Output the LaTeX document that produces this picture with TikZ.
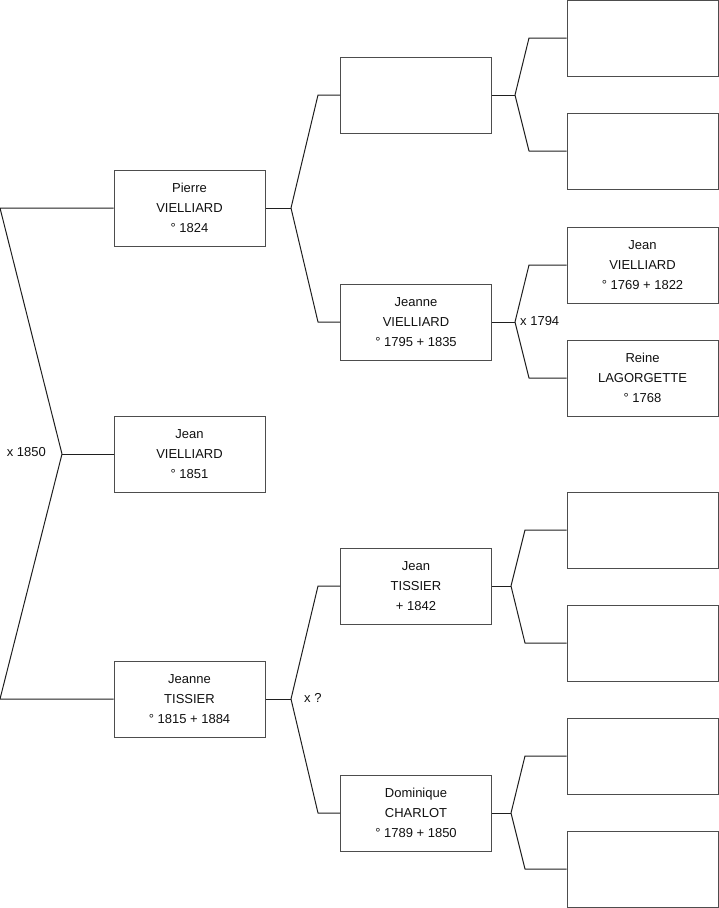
\documentclass[tikz,border=0pt]{standalone}
\usepackage{fontspec}
\setmainfont{Liberation Sans}
\usepackage{xcolor}
\definecolor{treeline}{HTML}{1F1F1F}
\definecolor{boxline}{HTML}{4D4D4D}
\definecolor{treetext}{HTML}{111111}
\tikzset{
  person/.style={rectangle,draw=boxline,fill=white,line width=1pt,
    minimum width=151pt,minimum height=76pt,inner sep=0pt,align=center,
    text=treetext,font=\fontsize{13}{20}\selectfont},
  link/.style={draw=treeline,line width=1pt,line join=bevel},
  union/.style={text=treetext,font=\fontsize{13}{15}\selectfont,inner sep=0pt}
}

\begin{document}
\begin{tikzpicture}[x=1pt,y=-1pt]
  \useasboundingbox (0,0) rectangle (719,908);
  % first generation
  \node[person] (p0) at (189.5,208) {Pierre\\VIELLIARD\\° 1824};
  \node[person] (c0) at (189.5,454) {Jean\\VIELLIARD\\° 1851};
  \node[person] (m0) at (189.5,699) {Jeanne\\TISSIER\\° 1815 + 1884};
  % second generation
  \node[person] (pp) at (416,95) {};
  \node[person] (pm) at (416,322) {Jeanne\\VIELLIARD\\° 1795 + 1835};
  \node[person] (mp) at (416,586) {Jean\\TISSIER\\+ 1842};
  \node[person] (mm) at (416,813) {Dominique\\CHARLOT\\° 1789 + 1850};
  % third generation
  \node[person] (ppp) at (642.5,38) {};
  \node[person] (ppm) at (642.5,151) {};
  \node[person] (pmp) at (642.5,265) {Jean\\VIELLIARD\\° 1769 + 1822};
  \node[person] (pmm) at (642.5,378) {Reine\\LAGORGETTE\\° 1768};
  \node[person] (mpp) at (642.5,530) {};
  \node[person] (mpm) at (642.5,643) {};
  \node[person] (mmp) at (642.5,756) {};
  \node[person] (mmm) at (642.5,869) {};

  % couple of the child
  \coordinate (r0) at (0,208);
  \coordinate (r1) at (0,699);
  \coordinate (j0) at (62,454);
  \draw[link] (p0.west) -- (r0) -- (j0) -- (r1) -- (m0.west);
  \draw[link] (j0) -- (c0.west);
  \node[union,anchor=east] (u0) at (46,452) {x 1850};

  % parents of Pierre
  \coordinate (jp) at (291,208);
  \coordinate (jpa) at (318,95);
  \coordinate (jpb) at (318,322);
  \draw[link] (p0.east) -- (jp);
  \draw[link] (pp.west) -- (jpa) -- (jp) -- (jpb) -- (pm.west);

  % parents of Jeanne
  \coordinate (jm) at (291,699);
  \coordinate (jma) at (318,586);
  \coordinate (jmb) at (318,813);
  \draw[link] (m0.east) -- (jm);
  \draw[link] (mp.west) -- (jma) -- (jm) -- (jmb) -- (mm.west);
  \node[union,anchor=west] (u2) at (304,698) {x ?};

  % third generation links
  \foreach \a/\b/\c/\jx/\ex in {pp/ppp/ppm/515/529,pm/pmp/pmm/515/529,
                                mp/mpp/mpm/511/525,mm/mmp/mmm/511/525}{
    \coordinate (j\a) at (\jx,0 |- \a.east);
    \draw[link] (\a.east) -- (j\a);
    \draw[link] (\b.west) -- (\ex,0 |- \b.west) -- (j\a)
      -- (\ex,0 |- \c.west) -- (\c.west);
  }
  \node[union,anchor=west] (u1) at (520,321) {x 1794};
\end{tikzpicture}
\end{document}
